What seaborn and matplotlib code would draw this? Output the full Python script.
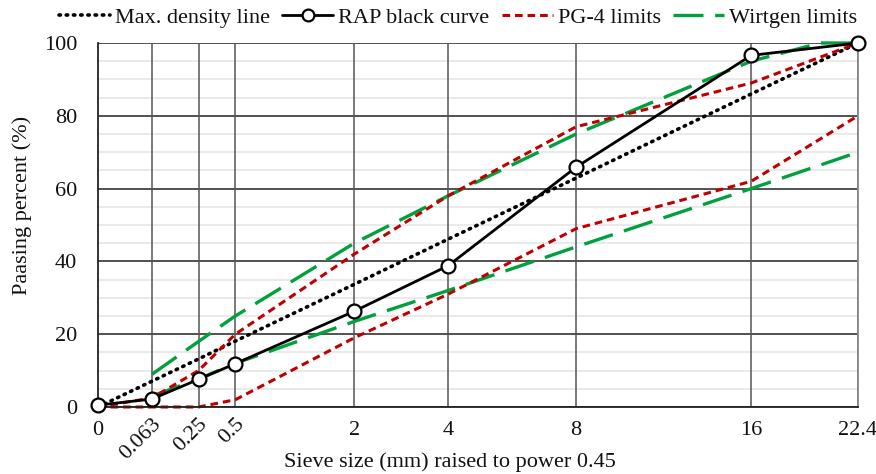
import numpy as np
import matplotlib
matplotlib.use('Agg')
import seaborn as sns
import matplotlib.pyplot as plt
from matplotlib.lines import Line2D
from matplotlib.ticker import MultipleLocator
import matplotlib.transforms as mtransforms

# sieve sizes (mm) and passing percentages
sieve = [0, 0.063, 0.25, 0.5, 2, 4, 8, 16, 22.4]
tick_labels = ['0', '0.063', '0.25', '0.5', '2', '4', '8', '16', '22.4']

max_density = [0, 7.1, 13.2, 18.1, 33.7, 46.1, 62.9, 86.0, 100]
rap_curve = [0.5, 2.2, 7.6, 11.9, 26.3, 38.8, 65.9, 96.6, 100]

pg4_upper = [0, 2.5, 10, 20, 42, 58, 77, 89, 100]
pg4_lower = [0, 0, 0, 2, 19, 31, 49, 62, 80]

wirt_upper_sieve = [0.063, 0.25, 0.5, 2, 4, 8, 16, 20, 22.4]
wirt_upper = [9, 18, 25, 45, 58, 75, 95, 100, 100]
wirt_lower_sieve = [0.063, 0.25, 0.5, 2, 4, 8, 16, 22.4]
wirt_lower = [3, 7.7, 12, 23.5, 32, 44, 60, 70]

POW = 0.45
RED = '#C00000'
GREEN = '#00A03C'

sns.set_theme(style='white')
plt.rcParams['font.family'] = ['Liberation Serif', 'DejaVu Serif']

fig = plt.figure(figsize=(8.76, 4.74), dpi=100)
ax = fig.add_axes([98 / 876, 1 - 407 / 474, 760 / 876, 364 / 474])

xs = np.power(sieve, POW)

# grid: minor every 5 %, major every 20 %, vertical line at each sieve
ax.yaxis.set_major_locator(MultipleLocator(20))
ax.yaxis.set_minor_locator(MultipleLocator(5))
ax.grid(which='minor', axis='y', color='#e6e6e6', lw=1.2)
ax.grid(which='major', axis='y', color='#222222', lw=1.1)
for x in xs[1:]:
    ax.axvline(x, color='#555555', lw=1.1, zorder=1)
ax.set_axisbelow(True)

sns.lineplot(x=xs, y=max_density, ax=ax, color='black', lw=2.6,
             linestyle=(0, (0.4, 1.6)), dash_capstyle='round', clip_on=False)
sns.lineplot(x=np.power(wirt_upper_sieve, POW), y=wirt_upper, ax=ax, color=GREEN,
             lw=2.4, linestyle=(0, (9, 3.5)), clip_on=False)
sns.lineplot(x=np.power(wirt_lower_sieve, POW), y=wirt_lower, ax=ax, color=GREEN,
             lw=2.4, linestyle=(0, (9, 3.5)), clip_on=False)
sns.lineplot(x=xs, y=pg4_upper, ax=ax, color=RED, lw=2.2,
             linestyle=(0, (2.5, 1.6)), clip_on=False)
sns.lineplot(x=xs, y=pg4_lower, ax=ax, color=RED, lw=2.2,
             linestyle=(0, (2.5, 1.6)), clip_on=False)
sns.lineplot(x=xs, y=rap_curve, ax=ax, color='black', lw=2.0, marker='o',
             markersize=10, markerfacecolor='white', markeredgecolor='black',
             markeredgewidth=1.6, clip_on=False, zorder=5)

ax.set_xlim(0, xs[-1])
ax.set_ylim(0, 100)

ax.spines['top'].set_visible(False)
ax.spines['left'].set_color('#222222')
ax.spines['bottom'].set_color('#222222')
ax.spines['right'].set_color('#888888')
for s in ax.spines.values():
    s.set_linewidth(1.3)

ax.set_xticks(xs)
ax.set_xticklabels(tick_labels)
ax.tick_params(axis='both', length=0, labelsize=16, colors='#111111')
ax.tick_params(axis='x', pad=10)
ax.tick_params(axis='y', pad=15)

offset = mtransforms.ScaledTranslation(13 / 100, 6 / 100, fig.dpi_scale_trans)
for lab in ax.get_xticklabels()[1:4]:
    lab.set_rotation(45)
    lab.set_ha('right')
    lab.set_va('top')
    lab.set_transform(lab.get_transform() + offset)

ax.set_xlabel('Sieve size (mm) raised to power 0.45', fontsize=16, color='#111111', va='center')
ax.xaxis.set_label_coords((450 - 98) / 760, (407 - 462) / 364)
ax.set_ylabel('Paasing percent (%)', fontsize=16, color='#111111', va='center')
ax.yaxis.set_label_coords((22 - 98) / 760, (407 - 205) / 364)

handles = [
    Line2D([], [], color='black', lw=2.6, linestyle=(0, (0.4, 1.6)), dash_capstyle='round'),
    Line2D([], [], color='black', lw=2.0, marker='o', markersize=8.5,
           markerfacecolor='white', markeredgewidth=1.6),
    Line2D([], [], color=RED, lw=2.2, linestyle=(0, (2.5, 1.6))),
    Line2D([], [], color=GREEN, lw=2.4, linestyle=(0, (9, 3.5))),
]
labels = ['Max. density line', 'RAP black curve', 'PG-4 limits', 'Wirtgen limits']
fig.legend(handles, labels, loc='center', bbox_to_anchor=(458 / 876, 1 - 18 / 474), ncol=4,
           frameon=False, fontsize=16, handlelength=2.3, handletextpad=0.22,
           columnspacing=0.55, borderpad=0, borderaxespad=0, labelcolor='#111111')

fig.savefig('out.png', dpi=100)
